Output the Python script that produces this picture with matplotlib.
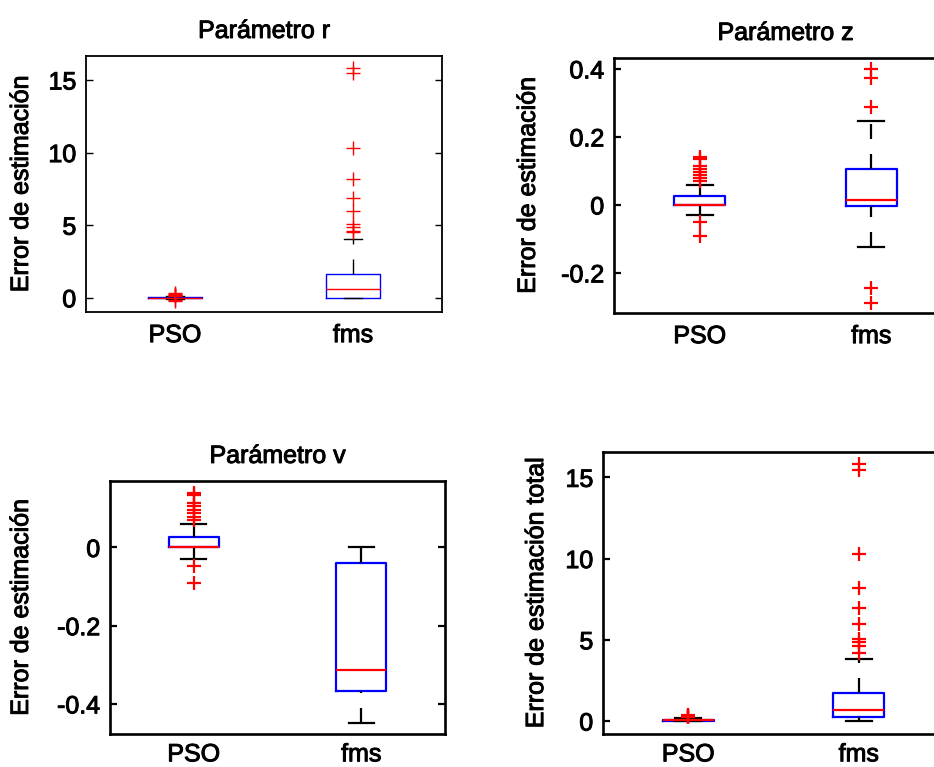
import matplotlib
matplotlib.use("Agg")
import matplotlib.pyplot as plt
import matplotlib.patheffects as pe
from matplotlib.text import Text

plt.rcParams['font.family'] = ['Liberation Sans', 'DejaVu Sans']

groups = ["PSO", "fms"]
titles = ["Parámetro r", "Parámetro z", "Parámetro v", ""]
ylabels = ["Error de estimación", "Error de estimación",
           "Error de estimación", "Error de estimación total"]

# box statistics: [q1, med, q3, whislo, whishi]
r_pso = [-0.03, 0.0, 0.05, -0.08, 0.1]
r_pso_out = [-0.25, -0.15, 0.12, 0.16, 0.2, 0.25, 0.3]
r_fms = [0.0, 0.57, 1.63, -0.05, 4.03]
r_fms_out = [4.5, 4.6, 4.9, 5.1, 6.0, 6.9, 8.2, 10.3, 15.45, 15.8]

z_pso = [0.0, 0.0, 0.026, -0.029, 0.059]
z_pso_out = [-0.091, -0.049, 0.07, 0.078, 0.088, 0.097, 0.105, 0.115, 0.135, 0.14]
z_fms = [-0.002, 0.014, 0.105, -0.123, 0.247]
z_fms_out = [-0.289, -0.244, 0.289, 0.373, 0.399]

v_pso = [0.0, 0.0, 0.026, -0.030, 0.060]
v_pso_out = [-0.09, -0.048, 0.07, 0.078, 0.088, 0.097, 0.105, 0.115, 0.135, 0.14]
v_fms = [-0.368, -0.314, -0.039, -0.448, 0.0]
v_fms_out = []

t_pso = [0.02, 0.04, 0.08, 0.0, 0.2]
t_pso_out = [0.22, 0.25, 0.28, 0.3, 0.33, 0.37]
t_fms = [0.27, 0.68, 1.70, 0.0, 3.82]
t_fms_out = [4.2, 4.6, 4.85, 5.05, 6.0, 6.95, 8.2, 10.3, 15.45, 15.8]

yticks = [[0, 5, 10, 15], [-0.2, 0, 0.2, 0.4], [-0.4, -0.2, 0], [0, 5, 10, 15]]
ylims = [(-0.98, 16.65), (-0.318, 0.432), (-0.477, 0.17), (-0.8, 16.56)]

panels = [((r_pso, r_pso_out), (r_fms, r_fms_out)),
          ((z_pso, z_pso_out), (z_fms, z_fms_out)),
          ((v_pso, v_pso_out), (v_fms, v_fms_out)),
          ((t_pso, t_pso_out), (t_fms, t_fms_out))]

W, H = 934, 767
# axes boxes in pixels: left, right, top, bottom
boxes = [(86, 442, 56, 312), (614, 957, 58, 313),
         (110, 445, 481, 734), (603, 944, 452, 734)]
label_x = [-0.149, -0.216, -0.23, -0.161]
lws = [1.0, 1.6, 1.6, 1.6]
caps = [0.1, 0.15, 0.15, 0.15]
xpads = [8, 8, 6, 6]
fs = 18

fig = plt.figure(figsize=(W / 100, H / 100), dpi=100)

for k in range(4):
    l, r, t, b = boxes[k]
    ax = fig.add_axes([l / W, 1 - b / H, (r - l) / W, (b - t) / H])
    lw = lws[k]
    dash = 10.8 / lw
    stats = []
    for name, (s, out) in zip(groups, panels[k]):
        stats.append(dict(label=name, q1=s[0], med=s[1], q3=s[2],
                          whislo=s[3], whishi=s[4], fliers=out))
    parts = ax.bxp(stats, positions=[1, 2], widths=0.3, capwidths=caps[k],
                   boxprops=dict(color='#0000ff', linewidth=lw),
                   medianprops=dict(color='#ff0000', linewidth=lw),
                   whiskerprops=dict(color='black', linewidth=lw, linestyle=(0, (dash, dash))),
                   capprops=dict(color='black', linewidth=lw),
                   flierprops=dict(marker='+', markeredgecolor='#ff0000',
                                   markersize=9.5, markeredgewidth=lw))
    # lower whisker dashes start at the cap in the original
    for wl in parts['whiskers'][0::2]:
        wl.set_ydata(wl.get_ydata()[::-1])
    ax.set_xlim(0.5, 2.5)
    ax.set_ylim(*ylims[k])
    ax.set_yticks(yticks[k])
    ax.set_yticklabels([('%g' % v) for v in yticks[k]])
    ax.set_xticks([1, 2])
    ax.set_xticklabels(groups)
    ax.tick_params(axis='x', length=0, pad=xpads[k], labelsize=fs)
    ax.tick_params(axis='y', direction='in', right=True, length=5,
                   width=lw, pad=7, labelsize=fs)
    for sp in ax.spines.values():
        sp.set_linewidth(lw + 0.3)
    if titles[k]:
        ax.set_title(titles[k], fontsize=fs, pad=13)
    ax.set_ylabel(ylabels[k], fontsize=fs)
    ax.yaxis.set_label_coords(label_x[k], 0.5)

# thicken the glyphs a bit, the original text looks heavier than regular
for txt in fig.findobj(Text):
    txt.set_path_effects([pe.withStroke(linewidth=0.7, foreground='black')])

fig.savefig("out.png", dpi=100)
